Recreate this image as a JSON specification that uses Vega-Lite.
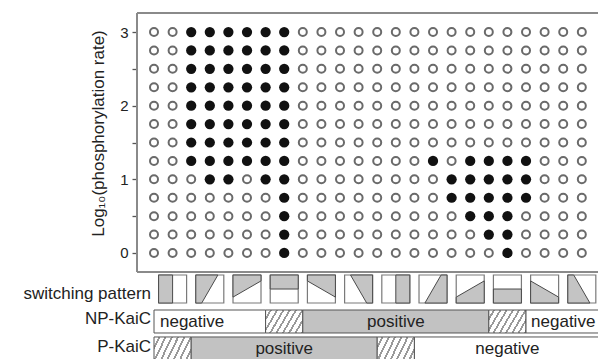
{
  "$schema": "https://vega.github.io/schema/vega-lite/v6.json",
  "width": 461,
  "height": 346,
  "autosize": {"type": "none"},
  "padding": {"left": 137, "top": 13, "right": 0, "bottom": 0},
  "config": {"view": {"stroke": null}, "font": "Liberation Sans"},
  "datasets": {
    "grid": [
      {"c":1,"r":3,"f":0},{"c":2,"r":3,"f":0},{"c":3,"r":3,"f":1},{"c":4,"r":3,"f":1},{"c":5,"r":3,"f":1},{"c":6,"r":3,"f":1},{"c":7,"r":3,"f":1},{"c":8,"r":3,"f":1},{"c":9,"r":3,"f":0},{"c":10,"r":3,"f":0},{"c":11,"r":3,"f":0},{"c":12,"r":3,"f":0},{"c":13,"r":3,"f":0},{"c":14,"r":3,"f":0},{"c":15,"r":3,"f":0},{"c":16,"r":3,"f":0},{"c":17,"r":3,"f":0},{"c":18,"r":3,"f":0},{"c":19,"r":3,"f":0},{"c":20,"r":3,"f":0},{"c":21,"r":3,"f":0},{"c":22,"r":3,"f":0},{"c":23,"r":3,"f":0},{"c":24,"r":3,"f":0},
      {"c":1,"r":2.75,"f":0},{"c":2,"r":2.75,"f":0},{"c":3,"r":2.75,"f":1},{"c":4,"r":2.75,"f":1},{"c":5,"r":2.75,"f":1},{"c":6,"r":2.75,"f":1},{"c":7,"r":2.75,"f":1},{"c":8,"r":2.75,"f":1},{"c":9,"r":2.75,"f":0},{"c":10,"r":2.75,"f":0},{"c":11,"r":2.75,"f":0},{"c":12,"r":2.75,"f":0},{"c":13,"r":2.75,"f":0},{"c":14,"r":2.75,"f":0},{"c":15,"r":2.75,"f":0},{"c":16,"r":2.75,"f":0},{"c":17,"r":2.75,"f":0},{"c":18,"r":2.75,"f":0},{"c":19,"r":2.75,"f":0},{"c":20,"r":2.75,"f":0},{"c":21,"r":2.75,"f":0},{"c":22,"r":2.75,"f":0},{"c":23,"r":2.75,"f":0},{"c":24,"r":2.75,"f":0},
      {"c":1,"r":2.5,"f":0},{"c":2,"r":2.5,"f":0},{"c":3,"r":2.5,"f":1},{"c":4,"r":2.5,"f":1},{"c":5,"r":2.5,"f":1},{"c":6,"r":2.5,"f":1},{"c":7,"r":2.5,"f":1},{"c":8,"r":2.5,"f":1},{"c":9,"r":2.5,"f":0},{"c":10,"r":2.5,"f":0},{"c":11,"r":2.5,"f":0},{"c":12,"r":2.5,"f":0},{"c":13,"r":2.5,"f":0},{"c":14,"r":2.5,"f":0},{"c":15,"r":2.5,"f":0},{"c":16,"r":2.5,"f":0},{"c":17,"r":2.5,"f":0},{"c":18,"r":2.5,"f":0},{"c":19,"r":2.5,"f":0},{"c":20,"r":2.5,"f":0},{"c":21,"r":2.5,"f":0},{"c":22,"r":2.5,"f":0},{"c":23,"r":2.5,"f":0},{"c":24,"r":2.5,"f":0},
      {"c":1,"r":2.25,"f":0},{"c":2,"r":2.25,"f":0},{"c":3,"r":2.25,"f":1},{"c":4,"r":2.25,"f":1},{"c":5,"r":2.25,"f":1},{"c":6,"r":2.25,"f":1},{"c":7,"r":2.25,"f":1},{"c":8,"r":2.25,"f":1},{"c":9,"r":2.25,"f":0},{"c":10,"r":2.25,"f":0},{"c":11,"r":2.25,"f":0},{"c":12,"r":2.25,"f":0},{"c":13,"r":2.25,"f":0},{"c":14,"r":2.25,"f":0},{"c":15,"r":2.25,"f":0},{"c":16,"r":2.25,"f":0},{"c":17,"r":2.25,"f":0},{"c":18,"r":2.25,"f":0},{"c":19,"r":2.25,"f":0},{"c":20,"r":2.25,"f":0},{"c":21,"r":2.25,"f":0},{"c":22,"r":2.25,"f":0},{"c":23,"r":2.25,"f":0},{"c":24,"r":2.25,"f":0},
      {"c":1,"r":2,"f":0},{"c":2,"r":2,"f":0},{"c":3,"r":2,"f":1},{"c":4,"r":2,"f":1},{"c":5,"r":2,"f":1},{"c":6,"r":2,"f":1},{"c":7,"r":2,"f":1},{"c":8,"r":2,"f":1},{"c":9,"r":2,"f":0},{"c":10,"r":2,"f":0},{"c":11,"r":2,"f":0},{"c":12,"r":2,"f":0},{"c":13,"r":2,"f":0},{"c":14,"r":2,"f":0},{"c":15,"r":2,"f":0},{"c":16,"r":2,"f":0},{"c":17,"r":2,"f":0},{"c":18,"r":2,"f":0},{"c":19,"r":2,"f":0},{"c":20,"r":2,"f":0},{"c":21,"r":2,"f":0},{"c":22,"r":2,"f":0},{"c":23,"r":2,"f":0},{"c":24,"r":2,"f":0},
      {"c":1,"r":1.75,"f":0},{"c":2,"r":1.75,"f":0},{"c":3,"r":1.75,"f":1},{"c":4,"r":1.75,"f":1},{"c":5,"r":1.75,"f":1},{"c":6,"r":1.75,"f":1},{"c":7,"r":1.75,"f":1},{"c":8,"r":1.75,"f":1},{"c":9,"r":1.75,"f":0},{"c":10,"r":1.75,"f":0},{"c":11,"r":1.75,"f":0},{"c":12,"r":1.75,"f":0},{"c":13,"r":1.75,"f":0},{"c":14,"r":1.75,"f":0},{"c":15,"r":1.75,"f":0},{"c":16,"r":1.75,"f":0},{"c":17,"r":1.75,"f":0},{"c":18,"r":1.75,"f":0},{"c":19,"r":1.75,"f":0},{"c":20,"r":1.75,"f":0},{"c":21,"r":1.75,"f":0},{"c":22,"r":1.75,"f":0},{"c":23,"r":1.75,"f":0},{"c":24,"r":1.75,"f":0},
      {"c":1,"r":1.5,"f":0},{"c":2,"r":1.5,"f":0},{"c":3,"r":1.5,"f":1},{"c":4,"r":1.5,"f":1},{"c":5,"r":1.5,"f":1},{"c":6,"r":1.5,"f":1},{"c":7,"r":1.5,"f":1},{"c":8,"r":1.5,"f":1},{"c":9,"r":1.5,"f":0},{"c":10,"r":1.5,"f":0},{"c":11,"r":1.5,"f":0},{"c":12,"r":1.5,"f":0},{"c":13,"r":1.5,"f":0},{"c":14,"r":1.5,"f":0},{"c":15,"r":1.5,"f":0},{"c":16,"r":1.5,"f":0},{"c":17,"r":1.5,"f":0},{"c":18,"r":1.5,"f":0},{"c":19,"r":1.5,"f":0},{"c":20,"r":1.5,"f":0},{"c":21,"r":1.5,"f":0},{"c":22,"r":1.5,"f":0},{"c":23,"r":1.5,"f":0},{"c":24,"r":1.5,"f":0},
      {"c":1,"r":1.25,"f":0},{"c":2,"r":1.25,"f":0},{"c":3,"r":1.25,"f":1},{"c":4,"r":1.25,"f":1},{"c":5,"r":1.25,"f":1},{"c":6,"r":1.25,"f":1},{"c":7,"r":1.25,"f":1},{"c":8,"r":1.25,"f":1},{"c":9,"r":1.25,"f":0},{"c":10,"r":1.25,"f":0},{"c":11,"r":1.25,"f":0},{"c":12,"r":1.25,"f":0},{"c":13,"r":1.25,"f":0},{"c":14,"r":1.25,"f":0},{"c":15,"r":1.25,"f":0},{"c":16,"r":1.25,"f":1},{"c":17,"r":1.25,"f":0},{"c":18,"r":1.25,"f":1},{"c":19,"r":1.25,"f":1},{"c":20,"r":1.25,"f":1},{"c":21,"r":1.25,"f":1},{"c":22,"r":1.25,"f":0},{"c":23,"r":1.25,"f":0},{"c":24,"r":1.25,"f":0},
      {"c":1,"r":1,"f":0},{"c":2,"r":1,"f":0},{"c":3,"r":1,"f":0},{"c":4,"r":1,"f":1},{"c":5,"r":1,"f":1},{"c":6,"r":1,"f":0},{"c":7,"r":1,"f":1},{"c":8,"r":1,"f":1},{"c":9,"r":1,"f":0},{"c":10,"r":1,"f":0},{"c":11,"r":1,"f":0},{"c":12,"r":1,"f":0},{"c":13,"r":1,"f":0},{"c":14,"r":1,"f":0},{"c":15,"r":1,"f":0},{"c":16,"r":1,"f":0},{"c":17,"r":1,"f":1},{"c":18,"r":1,"f":1},{"c":19,"r":1,"f":1},{"c":20,"r":1,"f":1},{"c":21,"r":1,"f":1},{"c":22,"r":1,"f":0},{"c":23,"r":1,"f":0},{"c":24,"r":1,"f":0},
      {"c":1,"r":0.75,"f":0},{"c":2,"r":0.75,"f":0},{"c":3,"r":0.75,"f":0},{"c":4,"r":0.75,"f":0},{"c":5,"r":0.75,"f":0},{"c":6,"r":0.75,"f":0},{"c":7,"r":0.75,"f":0},{"c":8,"r":0.75,"f":1},{"c":9,"r":0.75,"f":0},{"c":10,"r":0.75,"f":0},{"c":11,"r":0.75,"f":0},{"c":12,"r":0.75,"f":0},{"c":13,"r":0.75,"f":0},{"c":14,"r":0.75,"f":0},{"c":15,"r":0.75,"f":0},{"c":16,"r":0.75,"f":0},{"c":17,"r":0.75,"f":1},{"c":18,"r":0.75,"f":1},{"c":19,"r":0.75,"f":1},{"c":20,"r":0.75,"f":1},{"c":21,"r":0.75,"f":1},{"c":22,"r":0.75,"f":0},{"c":23,"r":0.75,"f":0},{"c":24,"r":0.75,"f":0},
      {"c":1,"r":0.5,"f":0},{"c":2,"r":0.5,"f":0},{"c":3,"r":0.5,"f":0},{"c":4,"r":0.5,"f":0},{"c":5,"r":0.5,"f":0},{"c":6,"r":0.5,"f":0},{"c":7,"r":0.5,"f":0},{"c":8,"r":0.5,"f":1},{"c":9,"r":0.5,"f":0},{"c":10,"r":0.5,"f":0},{"c":11,"r":0.5,"f":0},{"c":12,"r":0.5,"f":0},{"c":13,"r":0.5,"f":0},{"c":14,"r":0.5,"f":0},{"c":15,"r":0.5,"f":0},{"c":16,"r":0.5,"f":0},{"c":17,"r":0.5,"f":0},{"c":18,"r":0.5,"f":1},{"c":19,"r":0.5,"f":1},{"c":20,"r":0.5,"f":1},{"c":21,"r":0.5,"f":0},{"c":22,"r":0.5,"f":0},{"c":23,"r":0.5,"f":0},{"c":24,"r":0.5,"f":0},
      {"c":1,"r":0.25,"f":0},{"c":2,"r":0.25,"f":0},{"c":3,"r":0.25,"f":0},{"c":4,"r":0.25,"f":0},{"c":5,"r":0.25,"f":0},{"c":6,"r":0.25,"f":0},{"c":7,"r":0.25,"f":0},{"c":8,"r":0.25,"f":1},{"c":9,"r":0.25,"f":0},{"c":10,"r":0.25,"f":0},{"c":11,"r":0.25,"f":0},{"c":12,"r":0.25,"f":0},{"c":13,"r":0.25,"f":0},{"c":14,"r":0.25,"f":0},{"c":15,"r":0.25,"f":0},{"c":16,"r":0.25,"f":0},{"c":17,"r":0.25,"f":0},{"c":18,"r":0.25,"f":0},{"c":19,"r":0.25,"f":1},{"c":20,"r":0.25,"f":1},{"c":21,"r":0.25,"f":0},{"c":22,"r":0.25,"f":0},{"c":23,"r":0.25,"f":0},{"c":24,"r":0.25,"f":0},
      {"c":1,"r":0,"f":0},{"c":2,"r":0,"f":0},{"c":3,"r":0,"f":0},{"c":4,"r":0,"f":0},{"c":5,"r":0,"f":0},{"c":6,"r":0,"f":0},{"c":7,"r":0,"f":0},{"c":8,"r":0,"f":1},{"c":9,"r":0,"f":0},{"c":10,"r":0,"f":0},{"c":11,"r":0,"f":0},{"c":12,"r":0,"f":0},{"c":13,"r":0,"f":0},{"c":14,"r":0,"f":0},{"c":15,"r":0,"f":0},{"c":16,"r":0,"f":0},{"c":17,"r":0,"f":0},{"c":18,"r":0,"f":0},{"c":19,"r":0,"f":0},{"c":20,"r":0,"f":1},{"c":21,"r":0,"f":0},{"c":22,"r":0,"f":0},{"c":23,"r":0,"f":0},{"c":24,"r":0,"f":0}
    ],
    "icons": [
      {"c":2,"p":"k0"},{"c":4,"p":"k1"},{"c":6,"p":"k2"},{"c":8,"p":"k3"},{"c":10,"p":"k4"},{"c":12,"p":"k5"},
      {"c":14,"p":"k6"},{"c":16,"p":"k7"},{"c":18,"p":"k8"},{"c":20,"p":"k9"},{"c":22,"p":"k10"},{"c":24,"p":"k11"}
    ],
    "segs": [
      {"row":"NP-KaiC","from":1,"to":7,"state":"negative"},
      {"row":"NP-KaiC","from":7,"to":9,"state":"hatched"},
      {"row":"NP-KaiC","from":9,"to":19,"state":"positive"},
      {"row":"NP-KaiC","from":19,"to":21,"state":"hatched"},
      {"row":"NP-KaiC","from":21,"to":25,"state":"negative"},
      {"row":"P-KaiC","from":1,"to":3,"state":"hatched"},
      {"row":"P-KaiC","from":3,"to":13,"state":"positive"},
      {"row":"P-KaiC","from":13,"to":15,"state":"hatched"},
      {"row":"P-KaiC","from":15,"to":25,"state":"negative"}
    ]
  },
  "layer": [
    {
      "data": {"name": "grid"},
      "transform": [{"filter": "datum.f === 0"}],
      "mark": {"type": "point", "shape": "circle", "filled": false, "stroke": "#6a6a6a", "strokeWidth": 2, "size": 64, "opacity": 1},
      "encoding": {
        "x": {"field": "c", "type": "quantitative", "scale": {"domain": [0.086, 24.87], "nice": false, "zero": false}, "axis": null},
        "y": {"field": "r", "type": "quantitative", "scale": {"domain": [-1.439, 3.258], "nice": false, "zero": false},
          "axis": {"values": [0, 0.5, 1, 1.5, 2, 2.5, 3], "labelExpr": "datum.value % 1 === 0 ? format(datum.value, 'd') : ''",
            "domain": false, "grid": false, "ticks": true, "tickSize": 5, "tickColor": "#555", "tickWidth": 1.3,
            "labelFontSize": 15, "labelColor": "#222", "labelPadding": 4, "labelFont": "Liberation Sans",
            "title": "Log₁₀(phosphorylation rate)", "titleFontSize": 17, "titleFontWeight": "normal", "titleColor": "#222",
            "titleFont": "Liberation Sans", "titleY": 120, "titlePadding": 12}}
      }
    },
    {
      "data": {"name": "grid"},
      "transform": [{"filter": "datum.f === 1"}],
      "mark": {"type": "point", "shape": "circle", "filled": true, "fill": "#111111", "strokeWidth": 0, "size": 105, "opacity": 1},
      "encoding": {
        "x": {"field": "c", "type": "quantitative", "scale": {"domain": [0.086, 24.87], "nice": false, "zero": false}, "axis": null},
        "y": {"field": "r", "type": "quantitative", "scale": {"domain": [-1.439, 3.258], "nice": false, "zero": false}}
      }
    },
    {
      "data": {"values": [{}]},
      "mark": {"type": "rule", "color": "#8a8a8a", "strokeWidth": 2},
      "encoding": {
        "x": {"datum": 0.086, "scale": {"domain": [0.086, 24.87], "nice": false, "zero": false}, "axis": null},
        "x2": {"datum": 24.87},
        "y": {"datum": 3.258, "scale": {"domain": [-1.439, 3.258], "nice": false, "zero": false}}
      }
    },
    {
      "data": {"values": [{}]},
      "mark": {"type": "rule", "color": "#8a8a8a", "strokeWidth": 2},
      "encoding": {
        "x": {"datum": 0.086, "scale": {"domain": [0.086, 24.87], "nice": false, "zero": false}, "axis": null},
        "x2": {"datum": 24.87},
        "y": {"datum": -0.258, "scale": {"domain": [-1.439, 3.258], "nice": false, "zero": false}}
      }
    },
    {
      "data": {"values": [{}]},
      "mark": {"type": "rule", "color": "#8a8a8a", "strokeWidth": 2},
      "encoding": {
        "x": {"datum": 0.086, "scale": {"domain": [0.086, 24.87], "nice": false, "zero": false}, "axis": null},
        "y": {"datum": -0.258, "scale": {"domain": [-1.439, 3.258], "nice": false, "zero": false}},
        "y2": {"datum": 3.258}
      }
    },
    {
      "data": {"name": "icons"},
      "mark": {"type": "point", "shape": "square", "filled": true, "fill": "#ffffff", "stroke": "#7a7a7a", "strokeWidth": 1.2, "size": 784, "opacity": 1},
      "encoding": {
        "x": {"field": "c", "type": "quantitative", "scale": {"domain": [0.086, 24.87], "nice": false, "zero": false}, "axis": null},
        "y": {"datum": -0.489, "scale": {"domain": [-1.439, 3.258], "nice": false, "zero": false}}
      }
    },
    {
      "data": {"name": "icons"},
      "mark": {"type": "point", "filled": true, "fill": "#c4c4c4", "stroke": "#4a4a4a", "strokeWidth": 1, "size": 784, "opacity": 1},
      "encoding": {
        "x": {"field": "c", "type": "quantitative", "scale": {"domain": [0.086, 24.87], "nice": false, "zero": false}, "axis": null},
        "y": {"datum": -0.489, "scale": {"domain": [-1.439, 3.258], "nice": false, "zero": false}},
        "shape": {"field": "p", "type": "nominal", "legend": null,
          "scale": {"domain": ["k0","k1","k2","k3","k4","k5","k6","k7","k8","k9","k10","k11"],
            "range": [
              "M-1,-1L0,-1L0,1L-1,1Z",
              "M-1,-1L0.577,-1L-0.577,1L-1,1Z",
              "M-1,-1L1,-1L1,-0.577L-1,0.577Z",
              "M-1,-1L1,-1L1,0L-1,0Z",
              "M-1,-1L1,-1L1,0.577L-1,-0.577Z",
              "M-0.577,-1L1,-1L1,1L0.577,1Z",
              "M0,-1L1,-1L1,1L0,1Z",
              "M0.577,-1L1,-1L1,1L-0.577,1Z",
              "M-1,0.577L1,-0.577L1,1L-1,1Z",
              "M-1,0L1,0L1,1L-1,1Z",
              "M-1,-0.577L1,0.577L1,1L-1,1Z",
              "M-1,-1L-0.577,-1L0.577,1L-1,1Z"
            ]}}
      }
    },
    {
      "data": {"name": "segs"},
      "transform": [{"filter": "datum.row === 'NP-KaiC'"}],
      "mark": {"type": "rect", "stroke": "#555555", "strokeWidth": 1},
      "encoding": {
        "x": {"field": "from", "type": "quantitative", "scale": {"domain": [0.086, 24.87], "nice": false, "zero": false}, "axis": null},
        "x2": {"field": "to"},
        "y": {"datum": -0.774, "scale": {"domain": [-1.439, 3.258], "nice": false, "zero": false}},
        "y2": {"datum": -1.086},
        "fill": {
          "condition": {"test": "datum.state === 'hatched'", "value": {"gradient": "linear", "x1": 0, "y1": 0, "x2": 1.2, "y2": 0.43, "stops": [
            {"offset": 0, "color": "#ffffff"}, {"offset": 0.085, "color": "#ffffff"}, {"offset": 0.085, "color": "#9a9a9a"}, {"offset": 0.125, "color": "#9a9a9a"},
            {"offset": 0.125, "color": "#ffffff"}, {"offset": 0.21, "color": "#ffffff"}, {"offset": 0.21, "color": "#9a9a9a"}, {"offset": 0.25, "color": "#9a9a9a"},
            {"offset": 0.25, "color": "#ffffff"}, {"offset": 0.335, "color": "#ffffff"}, {"offset": 0.335, "color": "#9a9a9a"}, {"offset": 0.375, "color": "#9a9a9a"},
            {"offset": 0.375, "color": "#ffffff"}, {"offset": 0.46, "color": "#ffffff"}, {"offset": 0.46, "color": "#9a9a9a"}, {"offset": 0.5, "color": "#9a9a9a"},
            {"offset": 0.5, "color": "#ffffff"}, {"offset": 0.585, "color": "#ffffff"}, {"offset": 0.585, "color": "#9a9a9a"}, {"offset": 0.625, "color": "#9a9a9a"},
            {"offset": 0.625, "color": "#ffffff"}, {"offset": 0.71, "color": "#ffffff"}, {"offset": 0.71, "color": "#9a9a9a"}, {"offset": 0.75, "color": "#9a9a9a"},
            {"offset": 0.75, "color": "#ffffff"}, {"offset": 0.835, "color": "#ffffff"}, {"offset": 0.835, "color": "#9a9a9a"}, {"offset": 0.875, "color": "#9a9a9a"},
            {"offset": 0.875, "color": "#ffffff"}, {"offset": 0.96, "color": "#ffffff"}, {"offset": 0.96, "color": "#9a9a9a"}, {"offset": 1, "color": "#9a9a9a"}
          ]}},
          "field": "state", "type": "nominal", "legend": null,
          "scale": {"domain": ["negative", "positive", "hatched"], "range": ["#ffffff", "#c2c2c2", "#ffffff"]}
        }
      }
    },
    {
      "data": {"name": "segs"},
      "transform": [{"filter": "datum.row === 'P-KaiC'"}],
      "mark": {"type": "rect", "stroke": "#555555", "strokeWidth": 1},
      "encoding": {
        "x": {"field": "from", "type": "quantitative", "scale": {"domain": [0.086, 24.87], "nice": false, "zero": false}, "axis": null},
        "x2": {"field": "to"},
        "y": {"datum": -1.14, "scale": {"domain": [-1.439, 3.258], "nice": false, "zero": false}},
        "y2": {"datum": -1.52},
        "fill": {
          "condition": {"test": "datum.state === 'hatched'", "value": {"gradient": "linear", "x1": 0, "y1": 0, "x2": 1.2, "y2": 0.43, "stops": [
            {"offset": 0, "color": "#ffffff"}, {"offset": 0.085, "color": "#ffffff"}, {"offset": 0.085, "color": "#9a9a9a"}, {"offset": 0.125, "color": "#9a9a9a"},
            {"offset": 0.125, "color": "#ffffff"}, {"offset": 0.21, "color": "#ffffff"}, {"offset": 0.21, "color": "#9a9a9a"}, {"offset": 0.25, "color": "#9a9a9a"},
            {"offset": 0.25, "color": "#ffffff"}, {"offset": 0.335, "color": "#ffffff"}, {"offset": 0.335, "color": "#9a9a9a"}, {"offset": 0.375, "color": "#9a9a9a"},
            {"offset": 0.375, "color": "#ffffff"}, {"offset": 0.46, "color": "#ffffff"}, {"offset": 0.46, "color": "#9a9a9a"}, {"offset": 0.5, "color": "#9a9a9a"},
            {"offset": 0.5, "color": "#ffffff"}, {"offset": 0.585, "color": "#ffffff"}, {"offset": 0.585, "color": "#9a9a9a"}, {"offset": 0.625, "color": "#9a9a9a"},
            {"offset": 0.625, "color": "#ffffff"}, {"offset": 0.71, "color": "#ffffff"}, {"offset": 0.71, "color": "#9a9a9a"}, {"offset": 0.75, "color": "#9a9a9a"},
            {"offset": 0.75, "color": "#ffffff"}, {"offset": 0.835, "color": "#ffffff"}, {"offset": 0.835, "color": "#9a9a9a"}, {"offset": 0.875, "color": "#9a9a9a"},
            {"offset": 0.875, "color": "#ffffff"}, {"offset": 0.96, "color": "#ffffff"}, {"offset": 0.96, "color": "#9a9a9a"}, {"offset": 1, "color": "#9a9a9a"}
          ]}},
          "field": "state", "type": "nominal", "legend": null,
          "scale": {"domain": ["negative", "positive", "hatched"], "range": ["#ffffff", "#c2c2c2", "#ffffff"]}
        }
      }
    },
    {
      "data": {"name": "segs"},
      "transform": [{"filter": "datum.row === 'NP-KaiC' && datum.state !== 'hatched' && datum.from > 1"}, {"calculate": "(datum.from + datum.to) / 2", "as": "mid"}],
      "mark": {"type": "text", "fontSize": 17, "font": "Liberation Sans", "color": "#222222", "baseline": "middle", "align": "center"},
      "encoding": {
        "x": {"field": "mid", "type": "quantitative", "scale": {"domain": [0.086, 24.87], "nice": false, "zero": false}, "axis": null},
        "y": {"datum": -0.93, "scale": {"domain": [-1.439, 3.258], "nice": false, "zero": false}},
        "text": {"field": "state"}
      }
    },
    {
      "data": {"name": "segs"},
      "transform": [{"filter": "datum.row === 'NP-KaiC' && datum.from === 1"}],
      "mark": {"type": "text", "fontSize": 17, "font": "Liberation Sans", "color": "#222222", "baseline": "middle", "align": "left", "dx": 6},
      "encoding": {
        "x": {"field": "from", "type": "quantitative", "scale": {"domain": [0.086, 24.87], "nice": false, "zero": false}, "axis": null},
        "y": {"datum": -0.93, "scale": {"domain": [-1.439, 3.258], "nice": false, "zero": false}},
        "text": {"field": "state"}
      }
    },
    {
      "data": {"name": "segs"},
      "transform": [{"filter": "datum.row === 'P-KaiC' && datum.state !== 'hatched'"}, {"calculate": "(datum.from + datum.to) / 2", "as": "mid"}],
      "mark": {"type": "text", "fontSize": 17, "font": "Liberation Sans", "color": "#222222", "baseline": "middle", "align": "center"},
      "encoding": {
        "x": {"field": "mid", "type": "quantitative", "scale": {"domain": [0.086, 24.87], "nice": false, "zero": false}, "axis": null},
        "y": {"datum": -1.3, "scale": {"domain": [-1.439, 3.258], "nice": false, "zero": false}},
        "text": {"field": "state"}
      }
    },
    {
      "data": {"values": [{}]},
      "mark": {"type": "text", "fontSize": 17, "font": "Liberation Sans", "color": "#222222", "baseline": "middle", "align": "right"},
      "encoding": {
        "x": {"datum": 0.84, "scale": {"domain": [0.086, 24.87], "nice": false, "zero": false}, "axis": null},
        "y": {"datum": -0.55, "scale": {"domain": [-1.439, 3.258], "nice": false, "zero": false}},
        "text": {"value": "switching pattern"}
      }
    },
    {
      "data": {"values": [{}]},
      "mark": {"type": "text", "fontSize": 17, "font": "Liberation Sans", "color": "#222222", "baseline": "middle", "align": "right"},
      "encoding": {
        "x": {"datum": 0.84, "scale": {"domain": [0.086, 24.87], "nice": false, "zero": false}, "axis": null},
        "y": {"datum": -0.9, "scale": {"domain": [-1.439, 3.258], "nice": false, "zero": false}},
        "text": {"value": "NP-KaiC"}
      }
    },
    {
      "data": {"values": [{}]},
      "mark": {"type": "text", "fontSize": 17, "font": "Liberation Sans", "color": "#222222", "baseline": "middle", "align": "right"},
      "encoding": {
        "x": {"datum": 0.84, "scale": {"domain": [0.086, 24.87], "nice": false, "zero": false}, "axis": null},
        "y": {"datum": -1.28, "scale": {"domain": [-1.439, 3.258], "nice": false, "zero": false}},
        "text": {"value": "P-KaiC"}
      }
    }
  ]
}
